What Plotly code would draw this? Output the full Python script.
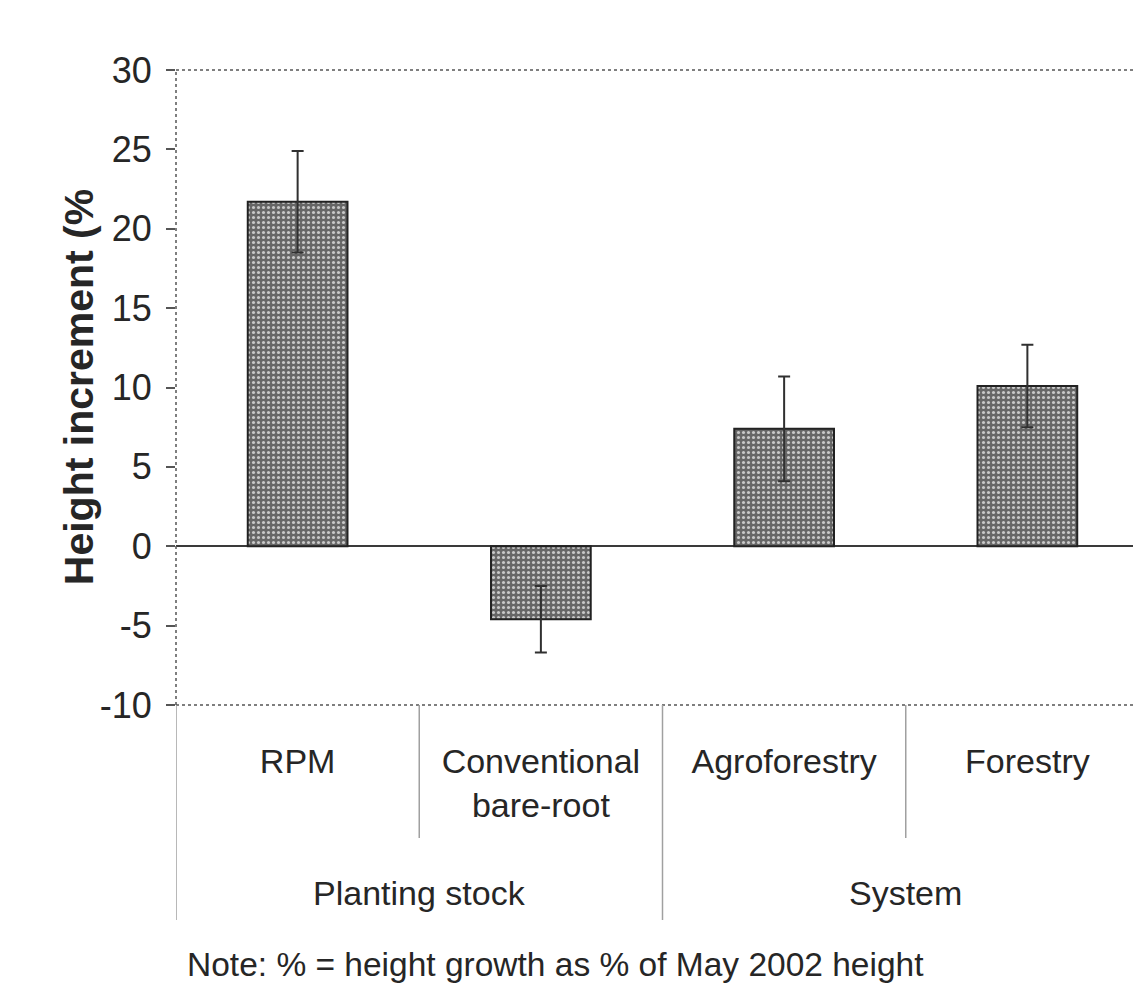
import plotly.graph_objects as go

# ---- data ----
categories = ["RPM", "Conventional<br>bare-root", "Agroforestry", "Forestry"]
group_names = ["Planting stock", "System"]
group_sizes = [2, 2]
values = [21.7, -4.6, 7.4, 10.1]
errors = [3.2, 2.1, 3.3, 2.6]
y_ticks = [-10, -5, 0, 5, 10, 15, 20, 25, 30]
y_ticklabels = ["-10", "-5", "0", "5", "10", "15", "20", "25", "30"]
y_title = "Height increment (%"
note_text = "Note: % = height growth as % of May 2002 height"

FONT = "Liberation Sans, Arial, sans-serif"
INK = "#262626"
DIV = "#a0a0a0"

fig = go.Figure()
fig.add_trace(go.Bar(
    x=categories,
    y=values,
    width=0.41,
    marker=dict(
        color="#666666",
        line=dict(color="#222222", width=2),
        pattern=dict(shape=".", fgcolor="#c8c8c8", bgcolor="#666666",
                     size=5, solidity=0.3, fillmode="replace"),
    ),
    error_y=dict(type="data", array=errors, visible=True,
                 color="#303030", thickness=2, width=6),
    showlegend=False,
))

fig.update_layout(
    width=1141, height=990,
    margin=dict(l=168, r=0, t=62, b=293),
    paper_bgcolor="white", plot_bgcolor="white",
    font=dict(family=FONT, size=34, color=INK),
)

fig.update_yaxes(
    range=[-10, 30], tickvals=y_ticks, ticktext=y_ticklabels,
    ticks="outside", ticklen=9, tickcolor="#555", tickwidth=1.5,
    ticklabelstandoff=7,
    tickfont=dict(size=36, color=INK),
    showgrid=False,
    zeroline=True, zerolinecolor="#3a3a3a", zerolinewidth=1.8,
    showline=False,
)

fig.update_xaxes(
    type="category",
    range=[-0.5, len(categories) - 0.5],
    showgrid=False, zeroline=False, showline=False,
    ticks="", ticklabelstandoff=33,
    tickfont=dict(size=34, color=INK),
)

# y-axis title placed like the original
fig.add_annotation(text="<b>" + y_title + "</b>", xref="paper", yref="paper",
                   x=-0.1, y=0.5, xanchor="center", yanchor="middle", textangle=-90,
                   showarrow=False, font=dict(size=41, family=FONT, color=INK))

# plot frame (dotted, like the original)
frame = dict(type="line", xref="paper", yref="paper", line=dict(color="#555", width=1.5, dash="dot"))
fig.add_shape(**frame, x0=0, x1=1, y0=1, y1=1)
fig.add_shape(**frame, x0=0, x1=0, y0=0, y1=1)
fig.add_shape(**frame, x0=0, x1=1, y0=0, y1=0)

# category dividers below the axis: short ones between categories, long ones between groups
group_edges = [-0.5]
for n in group_sizes:
    group_edges.append(group_edges[-1] + n)
for i in range(len(categories) + 1):
    b = i - 0.5
    long_div = b in group_edges[:-1]
    fig.add_shape(type="line", xref="x", yref="paper", x0=b, x1=b,
                  y0=0, y1=-0.3386 if long_div else -0.2094,
                  line=dict(color=DIV, width=1.5))

# group labels
for name, lo, hi in zip(group_names, group_edges[:-1], group_edges[1:]):
    fig.add_annotation(text=name, xref="x", yref="paper", x=(lo + hi) / 2, y=-0.296,
                       xanchor="center", yanchor="middle", showarrow=False,
                       font=dict(size=34, family=FONT, color=INK))

fig.add_annotation(
    text=note_text, xref="paper", yref="paper",
    x=0.009, y=-0.409, xanchor="left", yanchor="middle",
    showarrow=False, font=dict(size=33.5, family=FONT, color=INK),
)

fig.write_html("out.html")
